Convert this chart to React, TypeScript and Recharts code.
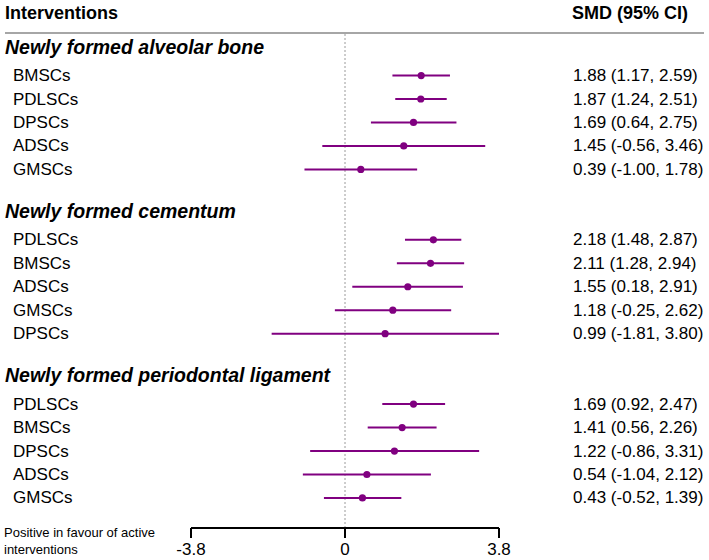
import React from 'react';
import { ScatterChart, Scatter, XAxis, YAxis, ReferenceLine } from 'recharts';

const sectionTitles = [
  'Newly formed alveolar bone',
  'Newly formed cementum',
  'Newly formed periodontal ligament',
];

const boneNames = ['BMSCs', 'PDLSCs', 'DPSCs', 'ADSCs', 'GMSCs'];
const boneSmd = [1.88, 1.87, 1.69, 1.45, 0.39];
const boneLo = [1.17, 1.24, 0.64, -0.56, -1.0];
const boneHi = [2.59, 2.51, 2.75, 3.46, 1.78];

const cemNames = ['PDLSCs', 'BMSCs', 'ADSCs', 'GMSCs', 'DPSCs'];
const cemSmd = [2.18, 2.11, 1.55, 1.18, 0.99];
const cemLo = [1.48, 1.28, 0.18, -0.25, -1.81];
const cemHi = [2.87, 2.94, 2.91, 2.62, 3.8];

const ligNames = ['PDLSCs', 'BMSCs', 'DPSCs', 'ADSCs', 'GMSCs'];
const ligSmd = [1.69, 1.41, 1.22, 0.54, 0.43];
const ligLo = [0.92, 0.56, -0.86, -1.04, -0.52];
const ligHi = [2.47, 2.26, 3.31, 2.12, 1.39];

const xTicks = [-3.8, 0, 3.8];

const PURPLE = '#800080';
const FONT = '"Liberation Sans", Arial, sans-serif';

// layout (in row units)
const TITLE_OFFSET = 0.55;
const SECTION_STEP = 7;
const FIRST_ROW = 1.22;
const Y_DOMAIN: [number, number] = [0, 21.05];

type Row = { kind: 'title' | 'item'; pos: number; label: string; smd?: number; lo?: number; hi?: number };

const sections = [
  { names: boneNames, smd: boneSmd, lo: boneLo, hi: boneHi },
  { names: cemNames, smd: cemSmd, lo: cemLo, hi: cemHi },
  { names: ligNames, smd: ligSmd, lo: ligLo, hi: ligHi },
];

const rows: Row[] = [];
sections.forEach((s, k) => {
  const tPos = TITLE_OFFSET + SECTION_STEP * k;
  rows.push({ kind: 'title', pos: tPos, label: sectionTitles[k] });
  s.names.forEach((n, i) => {
    rows.push({ kind: 'item', pos: tPos + FIRST_ROW + i, label: n, smd: s.smd[i], lo: s.lo[i], hi: s.hi[i] });
  });
});

const items = rows.filter((r) => r.kind === 'item');
const points = items.map((r) => ({ x: r.smd as number, y: r.pos }));
const yTicks = rows.map((r) => r.pos);

const fmt = (v: number) => v.toFixed(2);

const RowTick = (props: any) => {
  const { y, payload } = props;
  const row = rows.find((r) => Math.abs(r.pos - payload.value) < 1e-6);
  if (!row) return null;
  if (row.kind === 'title') {
    return (
      <text x={5} y={y} dominantBaseline="central" fontFamily={FONT} fontSize={19.5} fontWeight="bold" fontStyle="italic" fill="#000">
        {row.label}
      </text>
    );
  }
  return (
    <g>
      <text x={13} y={y} dominantBaseline="central" fontFamily={FONT} fontSize={17} fill="#000">
        {row.label}
      </text>
      <text x={573} y={y} dominantBaseline="central" fontFamily={FONT} fontSize={17} fill="#000">
        {`${fmt(row.smd as number)} (${fmt(row.lo as number)}, ${fmt(row.hi as number)})`}
      </text>
    </g>
  );
};

const Dot = (props: any) => <circle cx={props.cx} cy={props.cy} r={3.6} fill={PURPLE} />;

export default function App() {
  return (
    <div style={{ position: 'absolute', left: 0, top: 0, width: 709, height: 560, background: '#fff', fontFamily: FONT }}>
      <div style={{ position: 'absolute', left: 5, top: 2, fontSize: 18, fontWeight: 'bold', lineHeight: '22px' }}>Interventions</div>
      <div style={{ position: 'absolute', left: 572, top: 2, fontSize: 18, fontWeight: 'bold', lineHeight: '22px' }}>SMD (95% CI)</div>
      <div style={{ position: 'absolute', left: 5, top: 32, width: 699, height: 2, background: '#a6a6a6' }} />
      <div style={{ position: 'absolute', left: 4, top: 524, fontSize: 13, lineHeight: '17px' }}>
        Positive in favour of active
        <br />
        interventions
      </div>
      <div style={{ position: 'absolute', left: 0, top: 0 }}>
        <ScatterChart width={709} height={560} margin={{ top: 34, right: 210, bottom: 0, left: 190 }}>
          <XAxis
            type="number"
            dataKey="x"
            domain={[xTicks[0], xTicks[xTicks.length - 1]]}
            ticks={xTicks}
            interval={0}
            height={32}
            axisLine={{ stroke: '#000', strokeWidth: 2 }}
            tickLine={{ stroke: '#000', strokeWidth: 2 }}
            tickSize={10}
            tickMargin={5}
            tick={{ fill: '#000', fontSize: 17, fontFamily: FONT }}
            allowDataOverflow
          />
          <YAxis
            type="number"
            dataKey="y"
            domain={Y_DOMAIN}
            reversed
            ticks={yTicks}
            interval={0}
            width={1}
            axisLine={false}
            tickLine={false}
            tick={<RowTick />}
            allowDataOverflow
          />
          <ReferenceLine x={0} stroke="#9a9a9a" strokeDasharray="2 2" strokeWidth={1} />
          {items.map((r, i) => (
            <ReferenceLine
              key={i}
              segment={[
                { x: r.lo as number, y: r.pos },
                { x: r.hi as number, y: r.pos },
              ]}
              stroke={PURPLE}
              strokeWidth={2}
              ifOverflow="extendDomain"
            />
          ))}
          <Scatter data={points} shape={<Dot />} isAnimationActive={false} />
        </ScatterChart>
      </div>
    </div>
  );
}
